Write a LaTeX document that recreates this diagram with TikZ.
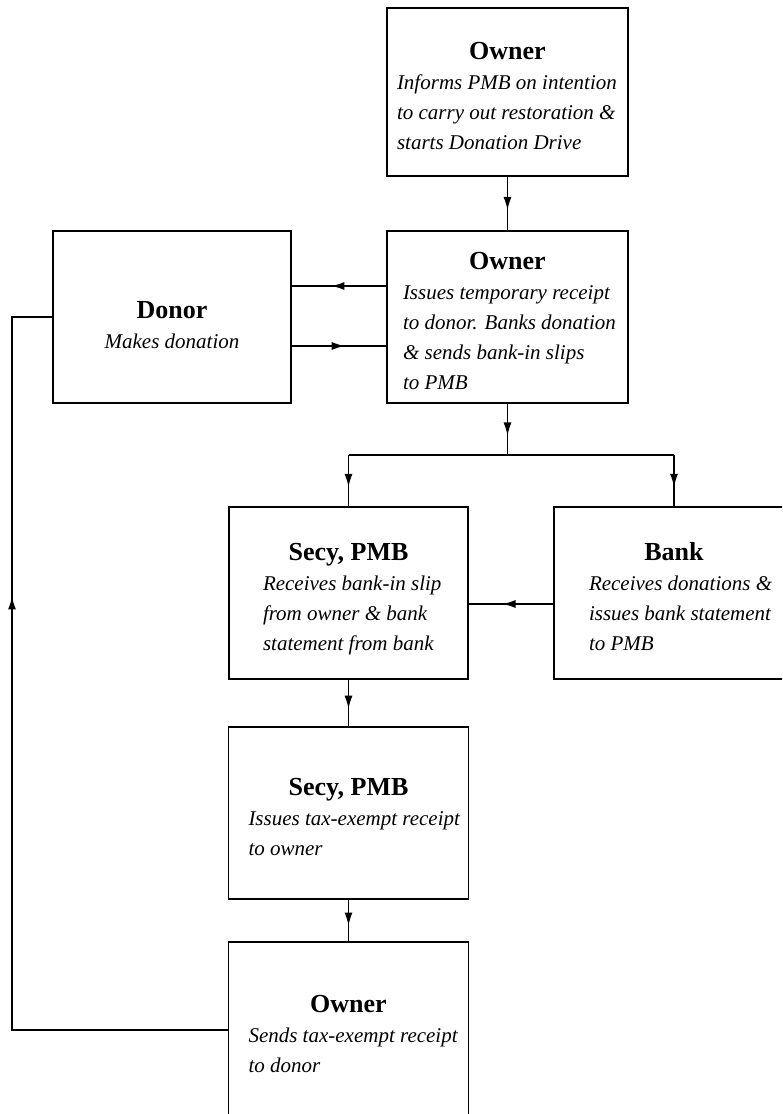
\documentclass[tikz,border=0pt]{standalone}
\usepackage{fontspec}
\setmainfont{Liberation Serif}
\usepackage{tikz}
\usetikzlibrary{arrows.meta,decorations.markings}

\tikzset{
  stage/.style={draw, rectangle, line width=0.6pt, inner sep=0pt, align=center,
    font=\fontsize{10.5}{15}\selectfont},
  flow/.style={line width=0.6pt},
  midarrow/.style={postaction={decorate}, decoration={markings,
    mark=at position #1 with {\arrow{Latex[length=6.5pt,width=4pt]}}}},
  midarrow/.default=0.55
}
\newcommand{\stagetitle}[1]{{\fontsize{13}{15}\selectfont\bfseries\rule{0pt}{17pt}#1}}
\newcommand{\stagebody}[2]{\makebox[#1][l]{\itshape\begin{tabular}[t]{@{}l@{}}#2\end{tabular}}}

\begin{document}
\begin{tikzpicture}[x=0.5pt,y=-0.5pt]
			\useasboundingbox (0,0) rectangle (782,1114);
			\clip (0,0) rectangle (782,1114);

			\node[stage, minimum width=120.5pt, minimum height=84pt] (ownerTop) at (507.5,92)
				{\stagetitle{Owner}\\ \stagebody{110.5pt}{Informs PMB on intention\\ to carry out restoration \&\\ starts Donation Drive}};
			\node[stage, minimum width=120.5pt, minimum height=86pt] (ownerMid) at (507.5,317)
				{\stagetitle{Owner}\\ \stagebody{104.5pt}{Issues temporary receipt\\ to donor. Banks donation\\ \& sends bank-in slips\\ to PMB}};
			\node[stage, minimum width=119pt, minimum height=86pt] (donor) at (172,317)
				{\stagetitle{Donor}\\ \textit{Makes donation}};
			\node[stage, minimum width=119.5pt, minimum height=86pt] (secyA) at (348.5,593)
				{\stagetitle{Secy, PMB}\\ \stagebody{85.5pt}{Receives bank-in slip\\ from owner \& bank\\ statement from bank}};
			\node[stage, minimum width=120pt, minimum height=86pt] (bank) at (674,593)
				{\stagetitle{Bank}\\ \stagebody{85pt}{Receives donations \&\\ issues bank statement\\ to PMB}};
			\node[stage, minimum width=120pt, minimum height=86pt] (secyB) at (348.5,813)
				{\stagetitle{Secy, PMB}\\ \stagebody{100pt}{Issues tax-exempt receipt\\ to owner}};
			\node[stage, minimum width=120pt, minimum height=88pt] (ownerEnd) at (348.5,1030)
				{\stagetitle{Owner}\\ \stagebody{100pt}{Sends tax-exempt receipt\\ to donor}};

			\coordinate (split) at (507.5,455);
			\coordinate (busL) at (split -| secyA.north);
			\coordinate (busR) at (split -| bank.north);
			\coordinate (loopBot) at (12,1030);
			\coordinate (loopTop) at (12,317);

			\draw[flow, midarrow=0.62] (ownerTop.south) -- (ownerMid.north);
			\draw[flow, midarrow=0.58] ([yshift=15.5pt]ownerMid.west) -- ([yshift=15.5pt]donor.east);
			\draw[flow, midarrow=0.56] ([yshift=-14.5pt]donor.east) -- ([yshift=-14.5pt]ownerMid.west);
			\draw[flow, midarrow=0.62] (ownerMid.south) -- (split);
			\draw[flow] (busL) -- (busR);
			\draw[flow, midarrow=0.62] (busL) -- (secyA.north);
			\draw[flow, midarrow=0.62] (busR) -- (bank.north);
			\draw[flow, midarrow=0.6] ([yshift=-5.5pt]bank.west) -- ([yshift=-5.5pt]secyA.east);
			\draw[flow, midarrow=0.62] (secyA.south) -- (secyB.north);
			\draw[flow, midarrow=0.62] (secyB.south) -- (ownerEnd.north);
			\draw[flow, midarrow=0.67] (ownerEnd.west) -- (loopBot) -- (loopTop) -- (donor.west);
		\end{tikzpicture}
\end{document}
